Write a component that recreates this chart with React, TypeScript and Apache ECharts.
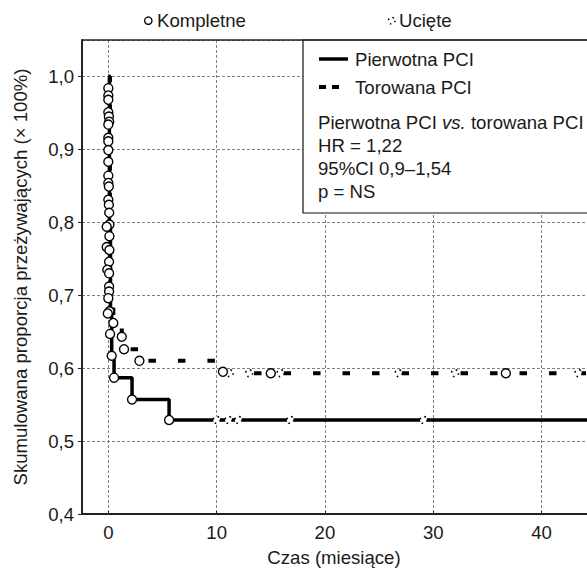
import React, { useEffect, useRef } from 'react';
import * as echarts from 'echarts';

// ---- data ----
const solidTimes = [0, 0.1, 0.2, 0.31, 0.53, 2.19, 5.61, 48.9];
const solidSurv = [1.0, 0.8, 0.675, 0.617, 0.587, 0.557, 0.529, 0.529];

const dashedTimes = [0, 0.15, 0.46, 1.24, 1.45, 2.87, 10.5, 48.9];
const dashedSurv = [1.0, 0.7, 0.662, 0.643, 0.626, 0.61, 0.593, 0.593];

const completeT = [0, 0, 0, 0, 0.05, 0.08, 0, 0, 0, 0, 0, 0, 0, 0.05, 0, 0.05, 0.08, 0.1, -0.15, 0.1, -0.15, 0.1, 0.07, -0.09, 0.07, 0.07, 0.07, 0, 0.1, -0.05, 0.46, 0.16, 1.24, 1.45, 0.31, 2.87, 0.53, 2.19, 5.61, 10.58, 15.0, 36.7];
const completeS = [0.984, 0.974, 0.968, 0.951, 0.945, 0.938, 0.934, 0.916, 0.911, 0.899, 0.883, 0.864, 0.854, 0.849, 0.831, 0.824, 0.813, 0.797, 0.794, 0.781, 0.766, 0.762, 0.746, 0.735, 0.73, 0.712, 0.705, 0.696, 0.678, 0.675, 0.662, 0.647, 0.643, 0.626, 0.617, 0.61, 0.587, 0.557, 0.529, 0.595, 0.593, 0.593];

const solidCensT = [10.0, 11.1, 12.0, 16.8, 29.1];
const solidCensS = [0.529, 0.529, 0.529, 0.529, 0.529];
const dashedCensT = [11.2, 13.0, 15.9, 26.8, 32.0, 43.4];
const dashedCensS = [0.593, 0.593, 0.593, 0.593, 0.593, 0.593];

const xMin = -2.43;
const xMax = 48.9;
const yMin = 0.4;
const yMax = 1.05;

const FONT = '"Liberation Sans", Arial, sans-serif';
const FS = 18.6;
const INK = '#1a1a1a';

const zip = (a: number[], b: number[]) => a.map((v, i) => [v, b[i]]);

export default function App() {
  const ref = useRef<HTMLDivElement>(null);

  useEffect(() => {
    if (!ref.current) return;
    const chart = echarts.init(ref.current, undefined, { renderer: 'svg' });
    const txt = (text: string, x: number, y: number, extra: any = {}) => ({
      type: 'text',
      x,
      y,
      z: 60,
      style: {
        text,
        fontFamily: FONT,
        fontSize: FS,
        fill: INK,
        align: 'left',
        verticalAlign: 'middle',
        ...extra,
      },
    });
    chart.setOption({
      animation: false,
      grid: { left: 82, right: 2, top: 40, bottom: 58 },
      xAxis: {
        type: 'value',
        min: xMin,
        max: xMax,
        minInterval: 10,
        maxInterval: 10,
        axisLine: { show: true, onZero: false, lineStyle: { color: '#222', width: 2 } },
        axisTick: { show: true, inside: true, length: 3, lineStyle: { color: '#222' } },
        axisLabel: {
          showMinLabel: false,
          showMaxLabel: false,
          margin: 9,
          fontFamily: FONT,
          fontSize: FS,
          color: INK,
          formatter: (v: number) => String(Math.round(v)),
        },
        splitLine: { show: true, lineStyle: { color: '#808080', width: 1, type: [3, 2] } },
      },
      yAxis: {
        type: 'value',
        min: yMin,
        max: yMax,
        minInterval: 0.1,
        maxInterval: 0.1,
        axisLine: { show: true, onZero: false, lineStyle: { color: '#222', width: 2 } },
        axisTick: { show: true, length: 4, lineStyle: { color: '#222' } },
        axisLabel: {
          showMaxLabel: false,
          margin: 8,
          fontFamily: FONT,
          fontSize: FS,
          color: INK,
          formatter: (v: number) => v.toFixed(1).replace('.', ','),
        },
        splitLine: { show: true, lineStyle: { color: '#808080', width: 1, type: [3, 2] } },
      },
      series: [
        {
          name: 'Torowana PCI',
          type: 'line',
          step: 'end',
          showSymbol: false,
          z: 2,
          lineStyle: { color: '#000', width: 4, type: [7.5, 22], cap: 'butt' },
          data: zip(dashedTimes, dashedSurv),
        },
        {
          name: 'Pierwotna PCI',
          type: 'line',
          step: 'end',
          showSymbol: false,
          z: 3,
          lineStyle: { color: '#000', width: 3.5 },
          data: zip(solidTimes, solidSurv),
        },
        {
          name: 'Ucięte',
          type: 'scatter',
          symbol: 'circle',
          symbolSize: 7,
          z: 4,
          itemStyle: { color: '#fff', opacity: 1, borderColor: '#000', borderWidth: 1.6, borderType: [1.6, 3.9] },
          data: zip(solidCensT, solidCensS).concat(zip(dashedCensT, dashedCensS)),
        },
        {
          name: 'Kompletne',
          type: 'scatter',
          symbol: 'circle',
          symbolSize: 9,
          z: 5,
          itemStyle: { color: '#fff', opacity: 1, borderColor: '#000', borderWidth: 1.4 },
          data: zip(completeT, completeS),
        },
      ],
      graphic: [
        // top border of plot
        { type: 'line', z: 55, shape: { x1: 82, y1: 40, x2: 640, y2: 40 }, style: { stroke: '#222', lineWidth: 1.5 } },
        // legend box
        { type: 'rect', z: 50, shape: { x: 303, y: 40, width: 400, height: 173 }, style: { fill: '#fff', stroke: '#111', lineWidth: 1.2 } },
        { type: 'line', z: 60, shape: { x1: 319, y1: 59, x2: 348, y2: 59 }, style: { stroke: '#000', lineWidth: 3.5 } },
        txt('Pierwotna PCI', 355, 59),
        { type: 'line', z: 60, shape: { x1: 319, y1: 87, x2: 340, y2: 87 }, style: { stroke: '#000', lineWidth: 4, lineDash: [7, 6] } },
        txt('Torowana PCI', 355, 87),
        {
          type: 'text',
          x: 318,
          y: 122,
          z: 60,
          style: {
            text: 'Pierwotna PCI {i|vs.} torowana PCI',
            fontFamily: FONT,
            fontSize: FS,
            fill: INK,
            align: 'left',
            verticalAlign: 'middle',
            rich: { i: { fontStyle: 'italic', fontFamily: FONT, fontSize: FS, fill: INK } },
          },
        },
        txt('HR = 1,22', 318, 145),
        txt('95%CI 0,9–1,54', 318, 168),
        txt('p = NS', 318, 191),
        // top legend
        { type: 'circle', z: 60, shape: { cx: 148.3, cy: 20.7, r: 3.7 }, style: { fill: '#fff', stroke: '#000', lineWidth: 1.3 } },
        txt('Kompletne', 157, 20.7),
        { type: 'circle', z: 60, shape: { cx: 391.7, cy: 20.7, r: 3.3 }, style: { fill: '#fff', stroke: '#000', lineWidth: 1.5, lineDash: [1.5, 3.7] } },
        txt('Ucięte', 399, 20.7),
        // axis titles
        txt('Czas (miesiące)', 334, 557, { align: 'center' }),
        {
          type: 'text',
          x: 20,
          y: 277,
          rotation: Math.PI / 2,
          z: 60,
          style: {
            text: 'Skumulowana proporcja przeżywających (× 100%)',
            fontFamily: FONT,
            fontSize: FS,
            fill: INK,
            align: 'center',
            verticalAlign: 'middle',
          },
        },
      ],
    });
    return () => chart.dispose();
  }, []);

  return (
    <div style={{ position: 'fixed', left: 0, top: 0, width: 587, height: 572, overflow: 'hidden', background: '#fff' }}>
      <div ref={ref} style={{ width: 640, height: 572 }} />
    </div>
  );
}
